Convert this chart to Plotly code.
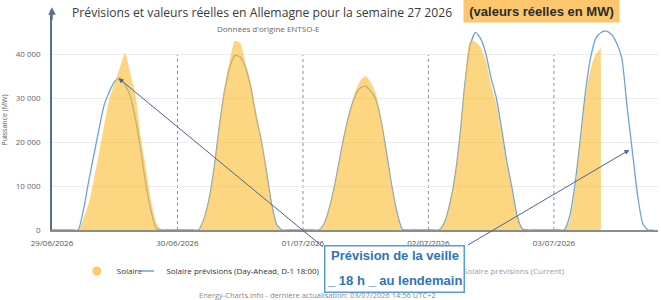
import pandas as pd
import plotly.graph_objects as go

# ---- data (hourly values, MW) ----
days = ["2026-06-29", "2026-06-30", "2026-07-01", "2026-07-02", "2026-07-03"]

solaire_reel = [
    [0, 0, 0, 0, 0, 0, 2500, 6000, 11500, 17500, 24000, 30000, 33500, 37000, 40200, 35500, 30500, 21000, 14000, 6500, 1500, 0, 0, 0],
    [0, 0, 0, 0, 0, 2500, 7000, 14000, 24000, 32500, 38500, 43000, 42500, 38000, 33500, 27000, 21000, 14000, 6000, 1000, 0, 0, 0, 0],
    [0, 0, 0, 0, 1500, 5000, 10000, 16000, 22500, 27500, 31500, 34000, 35000, 33500, 30800, 25000, 17500, 10000, 4000, 0, 0, 0, 0, 0],
    [0, 0, 0, 1500, 5500, 11500, 21000, 34000, 43000, 42800, 41500, 38500, 33000, 28500, 22000, 15000, 9000, 2500, 0, 0, 0, 0, 0, 0],
    [0, 0, 0, 2000, 9000, 19500, 30000, 36500, 40000, 41300],
]

solaire_prevision = [
    [0, 0, 0, 0, 0, 0, 4500, 11000, 17000, 23000, 28500, 31500, 33800, 34500, 33000, 30300, 25000, 18000, 10000, 4000, 300, 0, 0, 0],
    [0, 0, 0, 0, 0, 2300, 6800, 14000, 23500, 31500, 37000, 39700, 39300, 37000, 32500, 26000, 20500, 13500, 6000, 1200, 0, 0, 0, 0],
    [0, 0, 0, 0, 1300, 4800, 9800, 16000, 22000, 27000, 30500, 32300, 32700, 31500, 29500, 24500, 17500, 10000, 4000, 200, 0, 0, 0, 0],
    [0, 0, 0, 1500, 5500, 11500, 21000, 33500, 42000, 44900, 43500, 40000, 34500, 30000, 23000, 15500, 9500, 3000, 200, 0, 0, 0, 0, 0],
    [0, 0, 0, 3000, 10000, 20000, 31000, 39000, 43500, 44900, 45200, 44500, 42500, 39000, 28000, 18000, 8000, 1500, 0, 0],
]

y_ticks = [0, 10000, 20000, 30000, 40000]


def build(day_lists):
    xs, ys = [], []
    for d, vals in zip(days, day_lists):
        t0 = pd.Timestamp(d)
        for h, v in enumerate(vals):
            xs.append(t0 + pd.Timedelta(hours=h))
            ys.append(v)
    return xs, ys


xr, yr = build(solaire_reel)
xp, yp = build(solaire_prevision)

FONT = "Open Sans"
LEG_Y = (230 - 271) / 220

fig = go.Figure()

fig.add_trace(go.Scatter(
    x=xp, y=yp, mode="lines", name="Solaire prévisions (Day-Ahead, D-1 18:00)",
    line=dict(color="#6FA3D8", width=1.3, shape="spline", smoothing=0.6),
    showlegend=False, hoverinfo="skip"))

fig.add_trace(go.Scatter(
    x=xr, y=yr, mode="lines", name="Solaire", fill="tozeroy",
    fillcolor="rgba(252,187,47,0.6)",
    line=dict(color="rgba(252,187,47,0)", width=0, shape="spline", smoothing=0.6),
    showlegend=False, hoverinfo="skip"))

# legend entries
fig.add_trace(go.Scatter(
    x=[None], y=[None], mode="markers", name="Solaire",
    marker=dict(color="#FDCB6E", size=9), legend="legend"))

fig.add_trace(go.Scatter(
    x=[None], y=[None], mode="markers", name="Solaire prévisions (Day-Ahead, D-1 18:00)",
    marker=dict(symbol="line-ew", size=11, line=dict(color="#6FA3D8", width=1.3)),
    legend="legend3"))

fig.add_trace(go.Scatter(
    x=[None], y=[None], mode="markers", name="Solaire prévisions (Current)",
    marker=dict(symbol="line-ew", size=11, line=dict(color="#9CC3E6", width=1.3)),
    visible="legendonly", legend="legend2"))

# dotted day separators
for d in days[1:]:
    fig.add_shape(type="line", xref="x", yref="y", x0=d, x1=d, y0=0, y1=y_ticks[-1],
                  line=dict(color="#7F8FB0", width=1, dash="dot"), layer="below")

annotations = [
    # arrows from the text box
    dict(x="2026-06-29 12:43", y=34500, xref="x", yref="y", text="", showarrow=True,
         ax=206, ay=170, arrowhead=2, arrowsize=1, arrowwidth=1, arrowcolor="#4A6494"),
    dict(x="2026-07-03 14:26", y=18200, xref="x", yref="y", text="", showarrow=True,
         ax=-163, ay=96, arrowhead=2, arrowsize=1, arrowwidth=1, arrowcolor="#4A6494"),
    # box
    dict(x=0.5655, y=-0.177, xref="paper", yref="paper", text=" ", showarrow=False,
         width=138, height=45, bgcolor="white", bordercolor="#5B9BD5", borderwidth=1.5,
         borderpad=0, xanchor="center", yanchor="middle"),
    dict(x=0.5655, y=-0.114, xref="paper", yref="paper", text="<b>Prévision de la veille</b>",
         showarrow=False, font=dict(family="Liberation Sans", size=13, color="#2E75B6"),
         xanchor="center", yanchor="middle"),
    dict(x=0.5655, y=-0.228, xref="paper", yref="paper", text="<b>_ 18 h _ au lendemain</b>",
         showarrow=False, font=dict(family="Liberation Sans", size=13, color="#2E75B6"),
         xanchor="center", yanchor="middle"),
    # orange label
    dict(x=0.8077, y=0.995, xref="paper", yref="paper", text="<b>(valeurs réelles en MW)</b>",
         showarrow=False, font=dict(family="Liberation Sans", size=13, color="#2B2B2B"),
         bgcolor="#FCC66C", width=149, height=16, borderpad=3,
         xanchor="center", yanchor="middle"),
    # subtitle
    dict(x=(265 - 47) / 611, y=(230 - 29) / 220, xref="paper", yref="paper",
         text="Données d'origine ENTSO-E", showarrow=False,
         font=dict(family=FONT, size=8, color="#666666"), xanchor="center", yanchor="middle"),
    # footer
    dict(x=(315 - 47) / 611, y=(230 - 295) / 220, xref="paper", yref="paper",
         text="Energy-Charts.info - dernière actualisation: 03/07/2026 14:56 UTC+2", showarrow=False,
         font=dict(family=FONT, size=7.5, color="#888888"), xanchor="center", yanchor="middle"),
    # y axis arrow
    dict(x=0, y=1.012, xref="paper", yref="paper", text="", showarrow=True,
         ax=0, ay=14, arrowhead=2, arrowsize=1, arrowwidth=1.5, arrowcolor="#5D6F8C"),
]

leg_common = dict(orientation="h", xanchor="left", yanchor="middle", y=LEG_Y,
                  bgcolor="rgba(0,0,0,0)", font=dict(family=FONT, size=8, color="#333333"))

fig.update_layout(
    width=661, height=300,
    margin=dict(l=47, r=3, t=10, b=70),
    paper_bgcolor="white", plot_bgcolor="white",
    separators=". ",
    font=dict(family=FONT, size=8, color="#555555"),
    title=dict(text="Prévisions et valeurs réelles en Allemagne pour la semaine 27 2026",
               x=72 / 661, xref="container", xanchor="left",
               y=1 - 13 / 300, yref="container", yanchor="middle",
               font=dict(family=FONT, size=12.2, color="#3A3A3A")),
    showlegend=True,
    legend=dict(x=(72 - 47) / 611, **leg_common),
    legend3=dict(x=(122 - 47) / 611, **leg_common),
    legend2=dict(x=(421 - 47) / 611, **leg_common),
    annotations=annotations,
    xaxis=dict(type="date", range=["2026-06-29 00:00", "2026-07-03 19:55"],
               tick0=days[0], dtick=86400000, tickformat="%d/%m/%Y",
               showgrid=False, zeroline=False, showline=True, linecolor="#8C8C8C", linewidth=2,
               ticks="", ticklabelstandoff=4,
               tickfont=dict(family=FONT, size=8, color="#555555")),
    yaxis=dict(range=[0, 50000], tickvals=y_ticks, tickformat=",d",
               showgrid=True, gridcolor="#ECECEC", gridwidth=1, zeroline=False,
               showline=True, linecolor="#5D6F8C", linewidth=1.5,
               ticks="", ticklabelstandoff=8,
               tickfont=dict(family=FONT, size=8, color="#666666"),
               title=dict(text="Puissance (MW)", standoff=8,
                          font=dict(family=FONT, size=7, color="#555555"))),
)

fig.write_html("out.html")
